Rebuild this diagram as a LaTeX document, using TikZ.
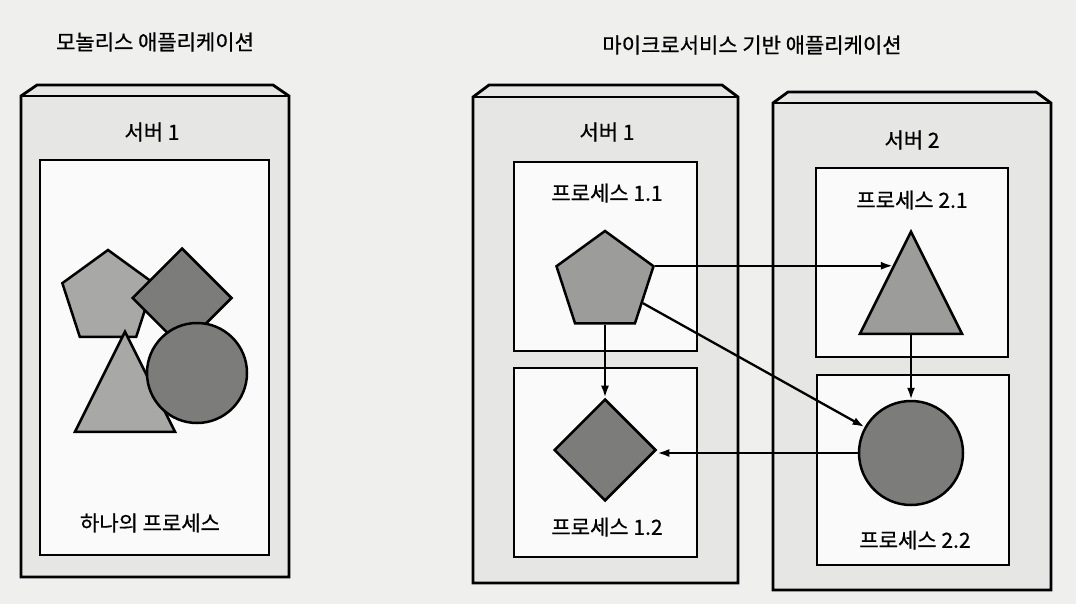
\documentclass[tikz,border=0pt]{standalone}
\usepackage{fontspec}
\setmainfont{Noto Sans CJK KR}[FakeBold=0.7]
\usetikzlibrary{shapes.geometric,arrows.meta,calc}
\definecolor{pagebg}{HTML}{EFEFEE}
\definecolor{srvgray}{HTML}{E6E6E5}
\definecolor{inwhite}{HTML}{FAFAFA}
\definecolor{lightshape}{HTML}{A8A8A7}
\definecolor{midshape}{HTML}{9C9C9B}
\definecolor{darkshape}{HTML}{7C7C7B}
\newcommand\srvbox[6]{% x1, x2, yback, yfront, ybot, inset
  \draw[srv] (#1,#4) -- (#1+#6,#3) -- (#2-#6,#3) -- (#2,#4) -- (#2,#5) -- (#1,#5) -- cycle;
  \draw[line width=2.8pt] (#1,#4) -- (#2,#4);}
\begin{document}
\begin{tikzpicture}[x=1pt,y=-1pt,
  lbl/.style={font=\fontsize{21}{24}\selectfont, inner sep=0pt, anchor=center},
  srv/.style={draw=black, fill=srvgray, line width=2.8pt, line join=miter},
  proc/.style={draw=black, fill=inwhite, rectangle, inner sep=0pt, line width=2.8pt},
  shp/.style={draw=black, line width=2.5pt, inner sep=0pt},
  pent/.style={shp, regular polygon, regular polygon sides=5, minimum size=#1},
  diam/.style={shp, diamond, minimum width=#1, minimum height=#1},
  tri/.style={shp, isosceles triangle, isosceles triangle stretches, shape border rotate=90, minimum width=#1, minimum height=#1, anchor=lower side},
  circ/.style={shp, circle, minimum size=#1},
  arr/.style={draw=black, -{Latex[length=12pt,width=8pt]}, line width=2.3pt},
]
\useasboundingbox[fill=pagebg] (0,0) rectangle (1076,604);

% titles
\node[lbl] (t1) at (155,42) {모놀리스 애플리케이션};
\node[lbl] (t2) at (752,45) {마이크로서비스 기반 애플리케이션};

% ---------- monolith ----------
\srvbox{21}{289}{85}{96}{577}{16}
\node[lbl] (s0) at (152,132) {서버 1};
\node[proc, minimum width=229, minimum height=395] (pb0) at (154.5,357.5) {};
\node[pent=96, fill=lightshape] (lp) at (108,298) {};
\node[diam=100, fill=darkshape] (ld) at (182,298) {};
\node[tri=100, fill=lightshape] (lt) at (125,433) {};
\node[circ=100, fill=darkshape] (lc) at (197,373) {};
\node[lbl] (l0) at (150,523) {하나의 프로세스};

% ---------- microservices: server 1 ----------
\srvbox{473}{738}{85}{97}{583}{16}
\node[lbl] (s1) at (607,132) {서버 1};
\node[proc, minimum width=183, minimum height=189] (pb11) at (605.5,256.5) {};
\node[proc, minimum width=183, minimum height=189] (pb12) at (605.5,462.5) {};
\node[lbl] (l11) at (607,193) {프로세스 1.1};
\node[lbl] (l12) at (607,527) {프로세스 1.2};
\node[pent=102, fill=midshape] (p11) at (605,282) {};
\node[diam=102, fill=darkshape] (d12) at (605,450) {};

% ---------- microservices: server 2 ----------
\srvbox{773}{1051}{92}{103}{590}{15}
\node[lbl] (s2) at (912,140) {서버 2};
\node[proc, minimum width=192, minimum height=189] (pb21) at (912,262.5) {};
\node[proc, minimum width=192, minimum height=190] (pb22) at (913,470) {};
\node[lbl] (l21) at (912,200) {프로세스 2.1};
\node[lbl] (l22) at (915,540) {프로세스 2.2};
\node[tri=102, fill=midshape] (t21) at (911,335) {};
\node[circ=104, fill=darkshape] (c22) at (911,453) {};

% ---------- connectors ----------
\coordinate (t21e) at ($(t21.apex)!0.34!(t21.left corner)$);
\draw[arr] (p11) -- (d12);
\draw[arr] (p11.corner 5) -- (p11.corner 5 -| t21e);
\draw[arr] (p11) -- (c22);
\draw[arr] (t21.lower side) -- (c22.north);
\draw[arr] (c22.west) -- (c22.west -| d12.east);
\end{tikzpicture}
\end{document}
